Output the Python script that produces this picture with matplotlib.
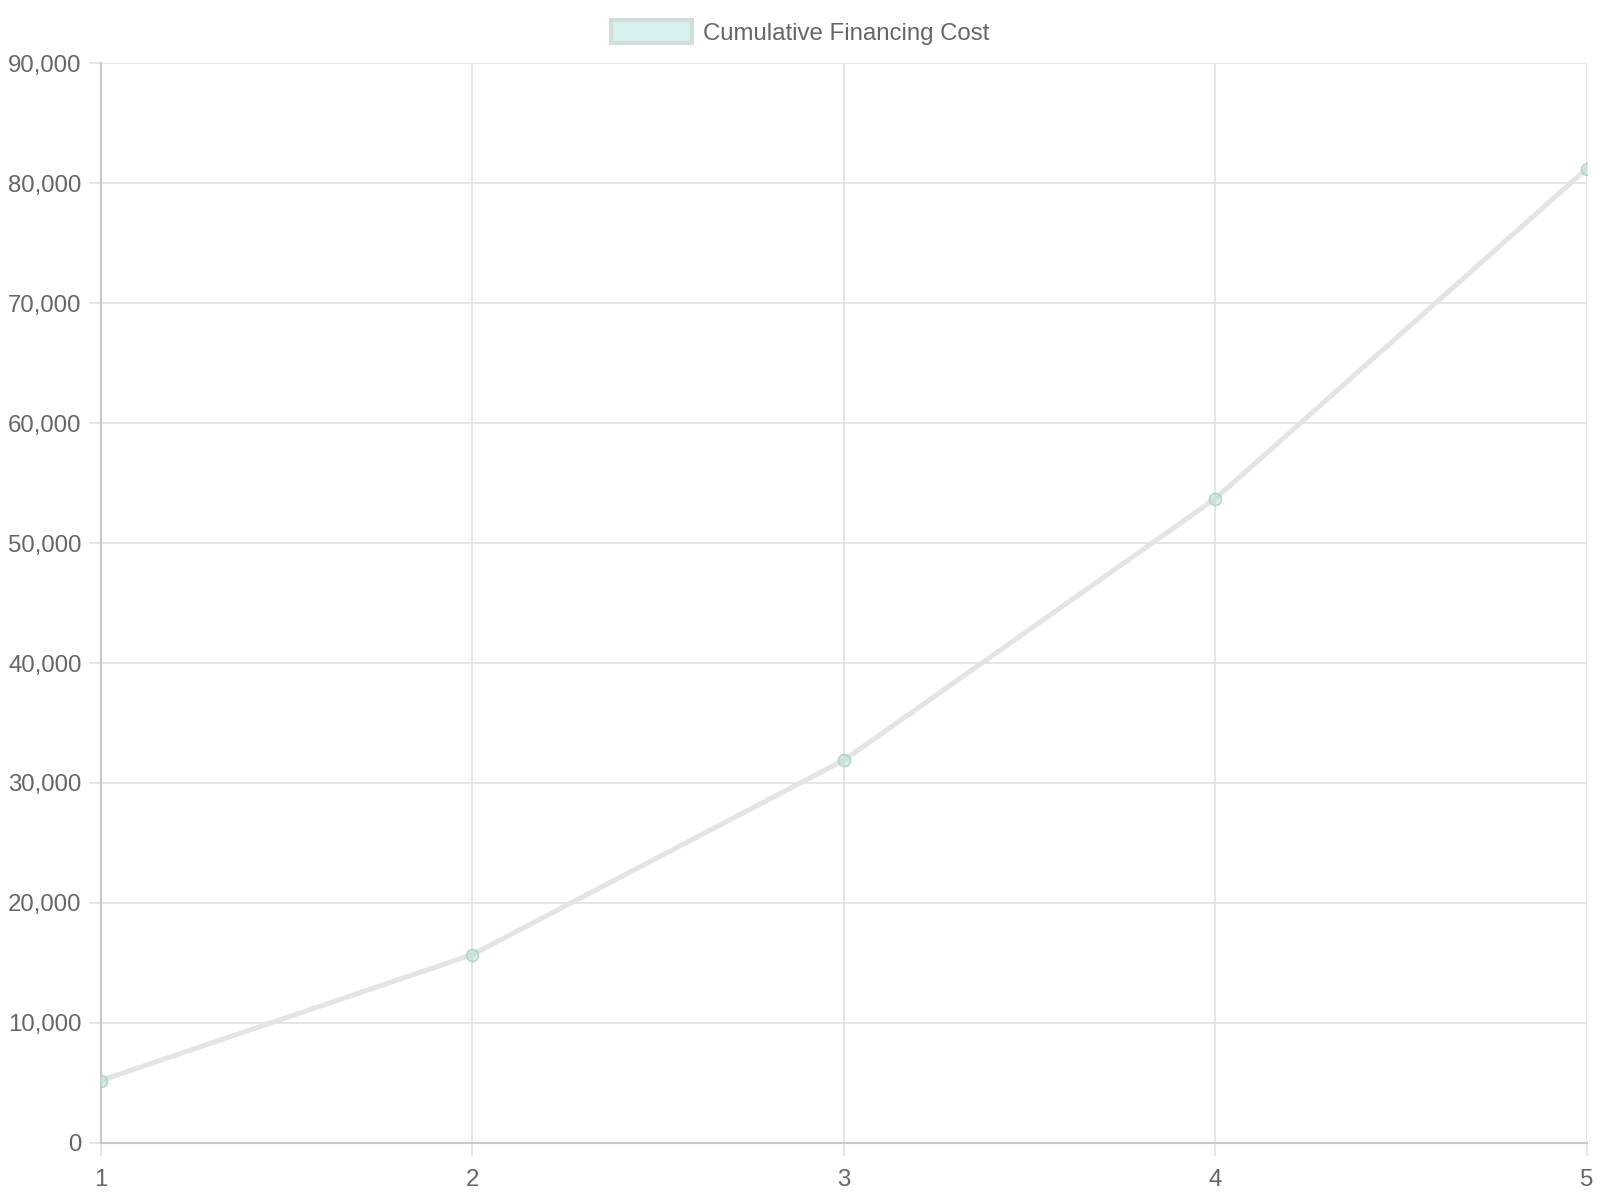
import matplotlib
matplotlib.use("Agg")
import matplotlib.pyplot as plt
from matplotlib.patches import Patch
from matplotlib.ticker import FuncFormatter, MultipleLocator

plt.rcParams['font.family'] = ['Liberation Sans', 'DejaVu Sans']

years = [1, 2, 3, 4, 5]
cumulative_cost = [5200, 15700, 31900, 53700, 81200]
series_label = "Cumulative Financing Cost"

fig = plt.figure(figsize=(16, 12), dpi=100)
ax = fig.add_axes([0.0631, 0.0476, 0.9917 - 0.0631, 0.9473 - 0.0476])

grid_c = "#e2e2e2"
axis_c = "#c8c8c8"
text_c = "#666666"

ax.plot(years, cumulative_cost, color="#e4e4e4", lw=3.6, solid_capstyle="round", zorder=3)
ax.scatter(years, cumulative_cost, s=75, facecolor=(0.72, 0.87, 0.84, 0.55),
           edgecolor=(0.65, 0.82, 0.78, 0.8), linewidths=1.2, zorder=4)

ax.set_xlim(1, 5)
ax.set_ylim(0, 90000)
ax.xaxis.set_major_locator(MultipleLocator(1))
ax.yaxis.set_major_locator(MultipleLocator(10000))
ax.yaxis.set_major_formatter(FuncFormatter(lambda v, p: f"{int(v):,}"))
ax.xaxis.set_major_formatter(FuncFormatter(lambda v, p: f"{int(v)}"))

ax.grid(True, color=grid_c, lw=1.2, zorder=0)
ax.set_axisbelow(True)
for s in ["top", "right"]:
    ax.spines[s].set_visible(False)
for s in ["left", "bottom"]:
    ax.spines[s].set_color(axis_c)
    ax.spines[s].set_linewidth(1.5)

ax.tick_params(axis="both", colors=grid_c, length=9, width=1.2, labelcolor=text_c, labelsize=17.3)
ax.tick_params(axis="y", pad=5)
ax.tick_params(axis="x", pad=10)

handle = Patch(facecolor="#d7f1ee", edgecolor="#d3dedc", linewidth=3)
fig.legend([handle], [series_label], loc="upper center", bbox_to_anchor=(0.5, 1.0),
           frameon=False, fontsize=17.3, labelcolor=text_c, handlelength=3.4,
           handleheight=1.05, handletextpad=0.45, borderaxespad=0.45)

fig.savefig("out.png", dpi=100, facecolor="white")
